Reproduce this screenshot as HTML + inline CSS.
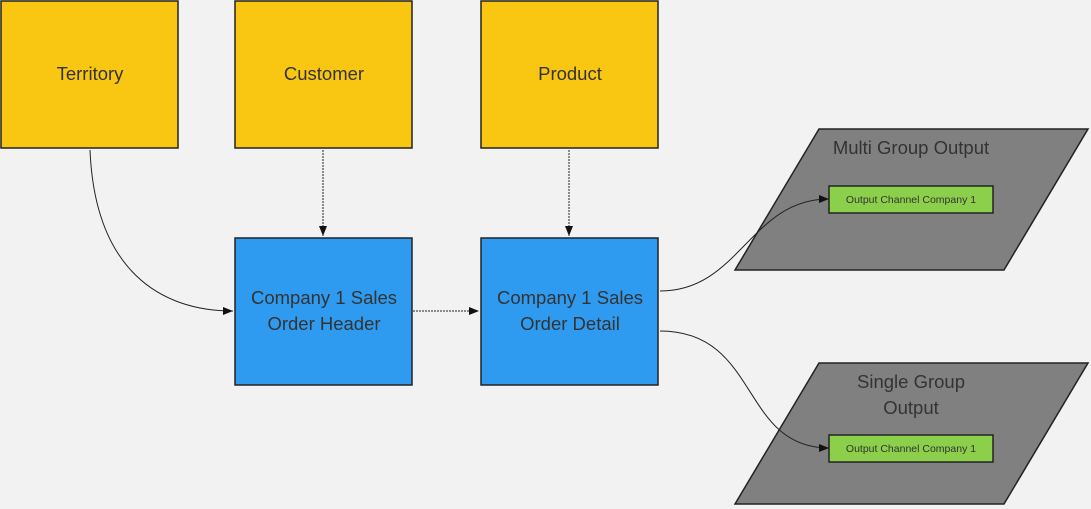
<!DOCTYPE html>
<html><head><style>
html,body{margin:0;padding:0;background:#f2f2f2;overflow:hidden;width:1091px;height:509px;}
svg{display:block;}
svg text{font-family:"Liberation Sans",sans-serif;}
</style></head><body>
<svg width="1091" height="509" xmlns="http://www.w3.org/2000/svg">
<defs><marker id="a" markerWidth="10" markerHeight="8" refX="10" refY="4" orient="auto" markerUnits="userSpaceOnUse"><path d="M0,0L10,4L0,8z" fill="#111"/></marker></defs>
<rect width="1091" height="509" fill="#f2f2f2"/>
<g stroke="#222" stroke-width="1.5">
<rect x="1" y="1" width="177" height="147" fill="#f9c611"/>
<rect x="235" y="1" width="177" height="147" fill="#f9c611"/>
<rect x="481" y="1" width="177" height="147" fill="#f9c611"/>
<rect x="235" y="238" width="177" height="147" fill="#2f9bf0"/>
<rect x="481" y="238" width="177" height="147" fill="#2f9bf0"/>
<polygon points="819,129 1088,129 1004,270 735,270" fill="#808080"/>
<polygon points="819,363 1088,363 1004,504 735,504" fill="#808080"/>
<rect x="829" y="186" width="164" height="27" fill="#8ccf4b"/>
<rect x="829" y="435" width="164" height="27" fill="#8ccf4b"/>
</g>
<g fill="none" stroke="#222" stroke-width="1" marker-end="url(#a)">
<path d="M90,150 C95,270 160,311 233,311"/>
<path d="M323,150 L323,236" stroke-dasharray="2,1"/>
<path d="M569,150 L569,236" stroke-dasharray="2,1"/>
<path d="M413,311 L479,311" stroke-dasharray="2,1"/>
<path d="M660,291 C740,291 750,199 829,199"/>
<path d="M660,331 C760,331 740,448 829,448"/>
</g>
<g fill="#333" font-size="18.5" text-anchor="middle">
<text x="90" y="80">Territory</text>
<text x="324" y="80">Customer</text>
<text x="570" y="80">Product</text>
<text x="324" y="304">Company 1 Sales</text>
<text x="324" y="330">Order Header</text>
<text x="570" y="304">Company 1 Sales</text>
<text x="570" y="330">Order Detail</text>
<text x="911" y="154">Multi Group Output</text>
<text x="911" y="388">Single Group</text>
<text x="911" y="414">Output</text>
</g>
<g fill="#333" font-size="10.5" text-anchor="middle">
<text x="911" y="203">Output Channel Company 1</text>
<text x="911" y="452">Output Channel Company 1</text>
</g>
</svg>
</body></html>
